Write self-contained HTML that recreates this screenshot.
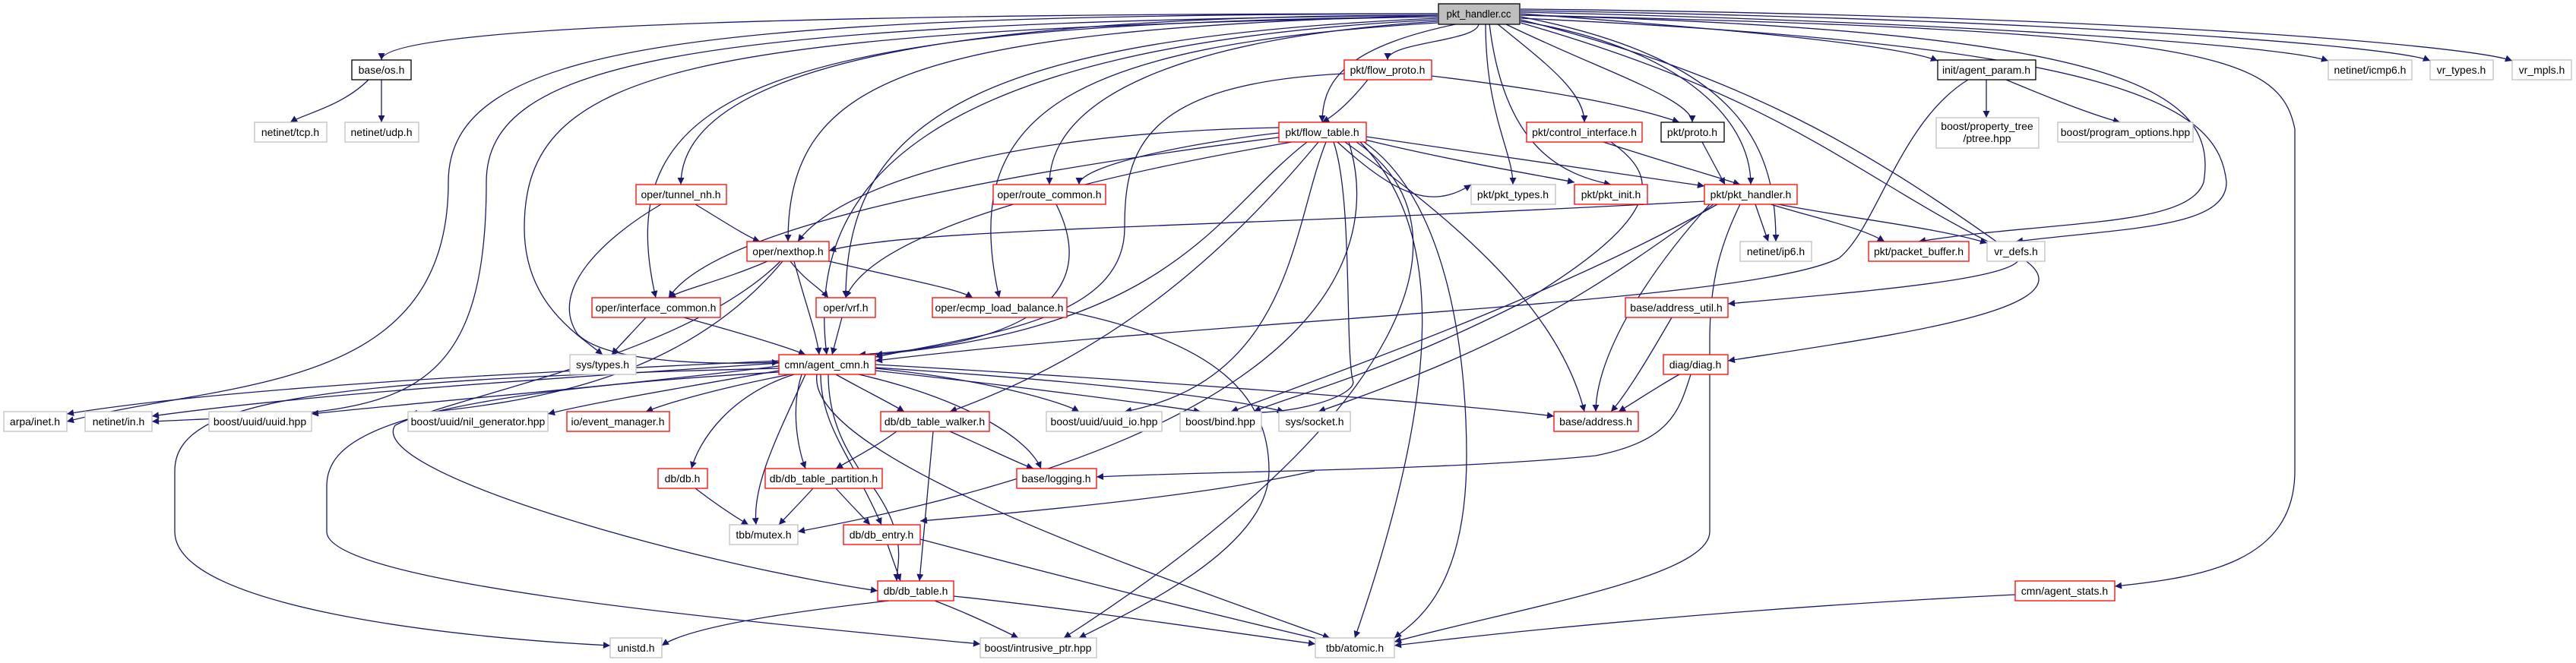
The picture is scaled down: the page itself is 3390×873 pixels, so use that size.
<!DOCTYPE html>
<html><head><meta charset="utf-8"><style>
html,body{margin:0;padding:0;background:#fff;}
svg{display:block;}
text{font-family:"Liberation Sans",sans-serif;font-size:14px;fill:#000;}
.e{fill:none;stroke:#191970;stroke-width:1.3;}
.r{fill:#fff;stroke:#ff0000;stroke-width:1.3;}
.g{fill:#fff;stroke:#bfbfbf;stroke-width:1.3;}
.k{fill:#fff;stroke:#000;stroke-width:1.3;}
</style></head><body>
<svg width="3390" height="873" viewBox="0 0 3390 873" xmlns="http://www.w3.org/2000/svg">
<defs><marker id="a" viewBox="0 0 10 10" refX="10" refY="5" markerWidth="10" markerHeight="9" markerUnits="userSpaceOnUse" orient="auto"><path d="M0,0 L10,5 L0,10 z" fill="#191970"/></marker></defs>
<g class="e" marker-end="url(#a)">
<path d="M1892 18 C1197 18,502 30,502 79"/>
<path d="M1892 20 C1394 20,896 60,896 243"/>
<path d="M1892 22 C1000 30,800 120,863 392"/>
<path d="M1892 20 C1200 40,1037 100,1037 318"/>
<path d="M1892 24 C1300 50,1113 150,1113 392"/>
<path d="M1892 26 C1200 60,1060 250,1088 467"/>
<path d="M1892 22 C900 40,690 90,690 300 C690 400,760 440,793 467"/>
<path d="M1892 18 C900 20,590 60,590 240 C590 520,300 500,88 555"/>
<path d="M1892 20 C900 30,640 80,640 240 C640 560,500 540,200 555"/>
<path d="M1892 28 C1550 50,1381 130,1381 243"/>
<path d="M1892 30 C1400 60,1260 150,1315 392"/>
<path d="M1946 31 C1946 55,1826 55,1826 79"/>
<path d="M1920 31 C1780 60,1740 100,1740 161"/>
<path d="M1955 31 C1955 150,1991 200,1991 243"/>
<path d="M1960 31 C1980 200,2060 230,2120 243"/>
<path d="M1970 31 C2030 80,2085 120,2085 161"/>
<path d="M1980 31 C2100 90,2227 130,2227 161"/>
<path d="M2001 28 C2200 60,2304 150,2304 243"/>
<path d="M2001 18 C2300 40,2500 60,2550 80"/>
<path d="M2001 16 C2600 30,3000 60,3064 80"/>
<path d="M2001 14 C2700 25,3150 60,3198 80"/>
<path d="M2001 12 C2800 20,3250 60,3306 80"/>
<path d="M2001 22 C2300 80,2337 200,2337 318"/>
<path d="M2001 20 C2800 40,2920 120,2900 240 C2880 300,2700 290,2525 318"/>
<path d="M2001 24 C2800 60,2920 140,2930 240 C2930 300,2800 300,2653 318"/>
<path d="M2001 26 C2300 100,2460 200,2630 320 C2740 360,2500 380,2274 400"/>
<path d="M2001 30 C2350 130,2440 230,2620 320 C2820 400,2500 440,2274 475"/>
<path d="M2001 20 C2900 40,3000 70,3020 170 L3020 620 C3020 740,2900 760,2783 772"/>
<path d="M485 105 C450 140,400 150,382 161"/>
<path d="M502 105 L502 161"/>
<path d="M1800 105 C1780 130,1760 150,1740 161"/>
<path d="M1884 100 C2050 120,2150 140,2210 161"/>
<path d="M1769 97 C1500 110,1480 200,1480 300 C1480 420,1300 440,1152 470"/>
<path d="M1683 175 C1550 190,1420 220,1420 243"/>
<path d="M1683 168 C1300 175,1100 250,1050 318"/>
<path d="M1690 180 C1300 230,940 300,880 392"/>
<path d="M1700 187 C1450 230,1150 300,1113 392"/>
<path d="M1720 187 C1600 280,1550 430,1152 467"/>
<path d="M1735 187 C1600 350,1450 470,1250 542"/>
<path d="M1745 187 C1700 300,1700 500,1480 542"/>
<path d="M1760 187 C1830 250,1880 280,1936 243"/>
<path d="M1780 180 C1900 210,2020 230,2072 240"/>
<path d="M1798 180 C2000 210,2150 230,2243 245"/>
<path d="M1770 187 C1900 280,2050 400,2085 542"/>
<path d="M1775 187 C1810 300,1800 560,1050 700"/>
<path d="M1785 187 C1950 300,1850 550,1400 840"/>
<path d="M1790 187 C1900 300,1900 500,1783 840"/>
<path d="M1795 187 C1900 260,1930 450,1930 600 C1930 780,1860 820,1835 840"/>
<path d="M1755 187 C1780 260,1770 450,1780 500 C1790 520,1700 550,1620 542"/>
<path d="M2110 187 C2180 210,2250 230,2290 243"/>
<path d="M2120 187 C2180 230,2200 280,2000 400 C1800 500,1700 520,1650 542"/>
<path d="M2240 187 L2270 243"/>
<path d="M2243 265 C1600 300,1200 300,1091 330"/>
<path d="M2310 269 L2327 318"/>
<path d="M2330 269 C2400 290,2450 300,2480 318"/>
<path d="M2340 269 C2450 290,2550 300,2615 320"/>
<path d="M2250 269 C2150 380,2100 480,2100 542"/>
<path d="M2255 269 C2100 380,2000 450,1735 542"/>
<path d="M2290 269 C2260 330,2250 380,2250 450 L2250 700 C2250 760,2000 800,1835 845"/>
<path d="M2260 269 C2100 360,1900 440,1620 542"/>
<path d="M2614 105 L2614 155"/>
<path d="M2640 105 C2700 130,2750 150,2790 161"/>
<path d="M2590 105 C2500 160,2470 300,2420 340 C2300 400,1600 420,1152 475"/>
<path d="M915 269 C950 290,980 310,1000 318"/>
<path d="M870 269 C800 310,720 380,760 440 C800 480,950 480,1025 477"/>
<path d="M1010 344 C950 370,900 380,880 392"/>
<path d="M1040 344 C1060 370,1080 380,1090 392"/>
<path d="M1045 344 C1060 400,1075 440,1078 467"/>
<path d="M1091 344 C1200 370,1260 380,1280 392"/>
<path d="M1030 344 C900 500,700 530,540 545"/>
<path d="M1027 344 C900 470,600 520,520 560 C480 620,900 740,1155 778"/>
<path d="M1390 269 C1430 350,1420 450,1130 467"/>
<path d="M850 418 C830 440,815 455,805 467"/>
<path d="M900 418 C980 440,1030 455,1060 467"/>
<path d="M1108 418 L1095 467"/>
<path d="M1404 410 C1600 450,1670 520,1670 620 C1670 720,1500 800,1420 840"/>
<path d="M2200 418 C2170 470,2140 520,2120 542"/>
<path d="M2210 493 C2180 510,2150 530,2130 542"/>
<path d="M2225 493 C2210 540,2200 580,2100 600 C1900 620,1600 620,1443 628"/>
<path d="M1025 475 C700 490,300 510,88 545"/>
<path d="M1025 478 C700 500,400 520,200 548"/>
<path d="M1025 482 C800 510,550 530,410 545"/>
<path d="M1025 488 C900 510,780 530,721 545"/>
<path d="M1040 493 C950 510,880 530,850 542"/>
<path d="M1045 493 C960 520,920 580,910 617"/>
<path d="M1055 493 C1040 540,1050 590,1060 617"/>
<path d="M1060 493 C1020 580,990 640,995 691"/>
<path d="M1080 493 C1080 560,1120 600,1160 691"/>
<path d="M1100 493 C1130 510,1170 530,1190 542"/>
<path d="M1152 485 C1300 500,1400 530,1420 542"/>
<path d="M1152 488 C1350 510,1500 530,1580 542"/>
<path d="M1152 484 C1400 500,1600 520,1690 542"/>
<path d="M1152 480 C1500 500,1900 530,2045 548"/>
<path d="M1130 493 C1250 520,1350 570,1370 617"/>
<path d="M1075 493 C1060 600,1500 750,1750 840"/>
<path d="M1025 485 C400 500,230 530,230 620 L230 700 C230 800,600 840,803 850"/>
<path d="M1025 490 C500 520,430 580,430 640 L430 700 C430 770,1000 820,1290 848"/>
<path d="M1090 493 C1090 560,1120 600,1130 617 C1200 700,1180 740,1180 765"/>
<path d="M1180 568 C1150 590,1120 605,1100 617"/>
<path d="M1250 568 C1300 590,1340 610,1360 617"/>
<path d="M1228 568 L1210 765"/>
<path d="M915 643 C950 670,975 685,985 691"/>
<path d="M1070 643 C1050 665,1035 680,1025 691"/>
<path d="M1100 643 C1120 665,1135 680,1145 691"/>
<path d="M1730 620 C1600 650,1400 670,1211 686"/>
<path d="M1168 717 L1185 765"/>
<path d="M1211 710 C1400 760,1600 810,1750 845"/>
<path d="M1170 791 C1000 810,900 830,871 850"/>
<path d="M1230 791 C1280 810,1320 830,1340 840"/>
<path d="M1255 785 C1400 800,1600 830,1731 848"/>
<path d="M2652 783 C2300 800,2000 830,1835 850"/>
</g>
<g>
<rect x="1893" y="5" width="107" height="27" fill="#bfbfbf" stroke="#000" stroke-width="1.3"/><text x="1946" y="23" text-anchor="middle" textLength="85" lengthAdjust="spacingAndGlyphs">pkt_handler.cc</text>
</g>
<g>
<rect class="k" x="463" y="79" width="78" height="26"/><text x="502" y="97" text-anchor="middle">base/os.h</text>
<rect class="g" x="335" y="161" width="95" height="26"/><text x="382" y="179" text-anchor="middle">netinet/tcp.h</text>
<rect class="g" x="454" y="161" width="97" height="26"/><text x="502" y="179" text-anchor="middle">netinet/udp.h</text>
<rect class="r" x="1769" y="79" width="115" height="26"/><text x="1826" y="97" text-anchor="middle">pkt/flow_proto.h</text>
<rect class="r" x="1683" y="161" width="115" height="26"/><text x="1740" y="179" text-anchor="middle">pkt/flow_table.h</text>
<rect class="r" x="2009" y="161" width="152" height="26"/><text x="2085" y="179" text-anchor="middle">pkt/control_interface.h</text>
<rect class="k" x="2186" y="161" width="83" height="26"/><text x="2227" y="179" text-anchor="middle">pkt/proto.h</text>
<rect class="k" x="2550" y="79" width="129" height="26"/><text x="2614" y="97" text-anchor="middle">init/agent_param.h</text>
<rect class="g" x="2548" y="155" width="135" height="40"/><text x="2615" y="171" text-anchor="middle">boost/property_tree</text><text x="2615" y="187" text-anchor="middle">/ptree.hpp</text>
<rect class="g" x="2708" y="161" width="178" height="26"/><text x="2797" y="179" text-anchor="middle">boost/program_options.hpp</text>
<rect class="g" x="3064" y="79" width="110" height="26"/><text x="3119" y="97" text-anchor="middle">netinet/icmp6.h</text>
<rect class="g" x="3198" y="79" width="83" height="26"/><text x="3239" y="97" text-anchor="middle">vr_types.h</text>
<rect class="g" x="3306" y="79" width="78" height="26"/><text x="3345" y="97" text-anchor="middle">vr_mpls.h</text>
<rect class="r" x="837" y="243" width="119" height="26"/><text x="896" y="261" text-anchor="middle">oper/tunnel_nh.h</text>
<rect class="r" x="1307" y="243" width="148" height="26"/><text x="1381" y="261" text-anchor="middle">oper/route_common.h</text>
<rect class="g" x="1936" y="243" width="111" height="26"/><text x="1991" y="261" text-anchor="middle">pkt/pkt_types.h</text>
<rect class="r" x="2072" y="243" width="96" height="26"/><text x="2120" y="261" text-anchor="middle">pkt/pkt_init.h</text>
<rect class="r" x="2243" y="243" width="122" height="26"/><text x="2304" y="261" text-anchor="middle">pkt/pkt_handler.h</text>
<rect class="r" x="983" y="318" width="108" height="26"/><text x="1037" y="336" text-anchor="middle">oper/nexthop.h</text>
<rect class="g" x="2290" y="318" width="94" height="26"/><text x="2337" y="336" text-anchor="middle">netinet/ip6.h</text>
<rect class="r" x="2459" y="318" width="132" height="26"/><text x="2525" y="336" text-anchor="middle">pkt/packet_buffer.h</text>
<rect class="g" x="2615" y="318" width="76" height="26"/><text x="2653" y="336" text-anchor="middle">vr_defs.h</text>
<rect class="r" x="779" y="392" width="169" height="26"/><text x="863" y="410" text-anchor="middle">oper/interface_common.h</text>
<rect class="r" x="1074" y="392" width="78" height="26"/><text x="1113" y="410" text-anchor="middle">oper/vrf.h</text>
<rect class="r" x="1227" y="392" width="177" height="26"/><text x="1315" y="410" text-anchor="middle">oper/ecmp_load_balance.h</text>
<rect class="r" x="2139" y="392" width="135" height="26"/><text x="2206" y="410" text-anchor="middle">base/address_util.h</text>
<rect class="g" x="750" y="467" width="87" height="26"/><text x="793" y="485" text-anchor="middle">sys/types.h</text>
<rect class="r" x="1025" y="467" width="127" height="26"/><text x="1088" y="485" text-anchor="middle">cmn/agent_cmn.h</text>
<rect class="r" x="2189" y="467" width="85" height="26"/><text x="2231" y="485" text-anchor="middle">diag/diag.h</text>
<rect class="g" x="5" y="542" width="83" height="26"/><text x="46" y="560" text-anchor="middle">arpa/inet.h</text>
<rect class="g" x="112" y="542" width="88" height="26"/><text x="156" y="560" text-anchor="middle">netinet/in.h</text>
<rect class="g" x="275" y="542" width="135" height="26"/><text x="342" y="560" text-anchor="middle">boost/uuid/uuid.hpp</text>
<rect class="g" x="537" y="542" width="184" height="26"/><text x="629" y="560" text-anchor="middle">boost/uuid/nil_generator.hpp</text>
<rect class="r" x="746" y="542" width="135" height="26"/><text x="813" y="560" text-anchor="middle">io/event_manager.h</text>
<rect class="r" x="1159" y="542" width="143" height="26"/><text x="1230" y="560" text-anchor="middle">db/db_table_walker.h</text>
<rect class="g" x="1377" y="542" width="152" height="26"/><text x="1453" y="560" text-anchor="middle">boost/uuid/uuid_io.hpp</text>
<rect class="g" x="1553" y="542" width="107" height="26"/><text x="1606" y="560" text-anchor="middle">boost/bind.hpp</text>
<rect class="g" x="1683" y="542" width="94" height="26"/><text x="1730" y="560" text-anchor="middle">sys/socket.h</text>
<rect class="r" x="2045" y="542" width="111" height="26"/><text x="2100" y="560" text-anchor="middle">base/address.h</text>
<rect class="r" x="866" y="617" width="65" height="26"/><text x="898" y="635" text-anchor="middle">db/db.h</text>
<rect class="r" x="1007" y="617" width="154" height="26"/><text x="1084" y="635" text-anchor="middle">db/db_table_partition.h</text>
<rect class="r" x="1338" y="617" width="105" height="26"/><text x="1390" y="635" text-anchor="middle">base/logging.h</text>
<rect class="g" x="960" y="691" width="90" height="26"/><text x="1005" y="709" text-anchor="middle">tbb/mutex.h</text>
<rect class="r" x="1110" y="691" width="101" height="26"/><text x="1160" y="709" text-anchor="middle">db/db_entry.h</text>
<rect class="r" x="1155" y="765" width="100" height="26"/><text x="1205" y="783" text-anchor="middle">db/db_table.h</text>
<rect class="r" x="2652" y="765" width="131" height="26"/><text x="2717" y="783" text-anchor="middle">cmn/agent_stats.h</text>
<rect class="g" x="803" y="840" width="68" height="26"/><text x="837" y="858" text-anchor="middle">unistd.h</text>
<rect class="g" x="1290" y="840" width="153" height="26"/><text x="1366" y="858" text-anchor="middle">boost/intrusive_ptr.hpp</text>
<rect class="g" x="1731" y="840" width="104" height="26"/><text x="1783" y="858" text-anchor="middle">tbb/atomic.h</text>
</g>
</svg>
</body></html>
